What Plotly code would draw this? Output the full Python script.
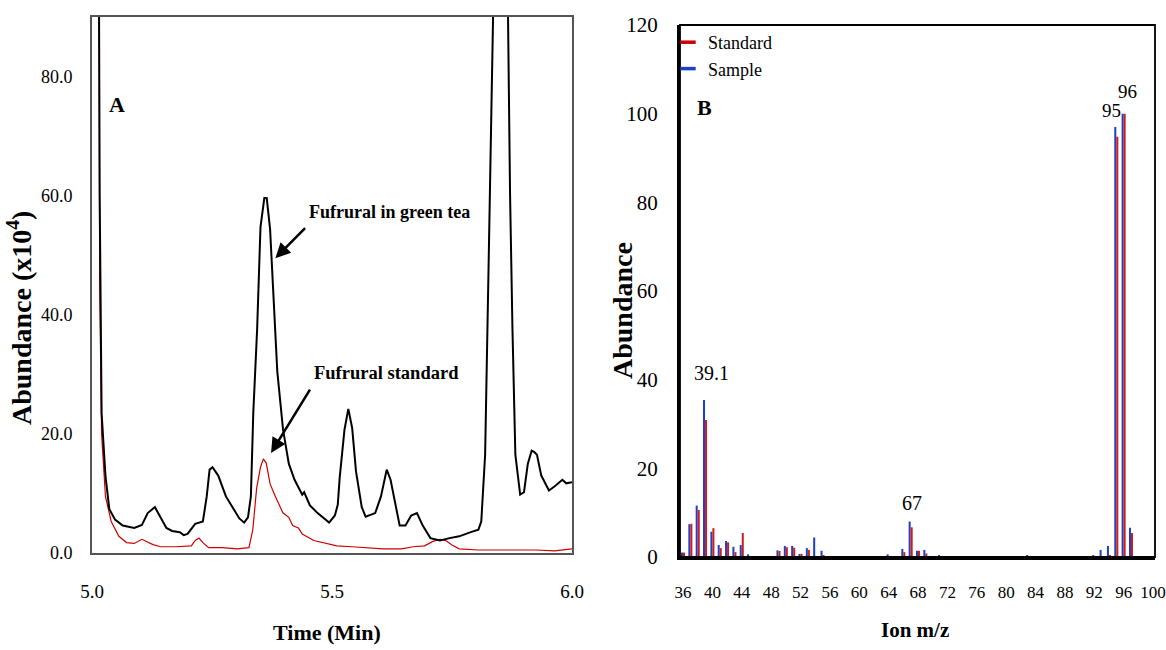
import plotly.graph_objects as go

# ---------------- Panel A: chromatogram data ----------------
time_sample = [5.010, 5.016, 5.020, 5.028, 5.036, 5.048, 5.064, 5.088, 5.104, 5.116, 5.131, 5.143,
               5.155, 5.167, 5.183, 5.191, 5.199, 5.215, 5.231, 5.239, 5.245, 5.251, 5.263, 5.279,
               5.295, 5.307, 5.317, 5.325, 5.331, 5.336, 5.344, 5.351, 5.359, 5.364, 5.371, 5.378,
               5.386, 5.398, 5.410, 5.422, 5.434, 5.438, 5.442, 5.454, 5.470, 5.486, 5.494, 5.506,
               5.512, 5.516, 5.526, 5.534, 5.542, 5.550, 5.562, 5.570, 5.590, 5.602, 5.614, 5.622,
               5.630, 5.641, 5.653, 5.665, 5.677, 5.689, 5.705, 5.725, 5.745, 5.765, 5.789, 5.805,
               5.811, 5.819, 5.827, 5.834, 5.840, 5.860, 5.866, 5.871, 5.876, 5.882, 5.892, 5.900,
               5.908, 5.916, 5.921, 5.927, 5.936, 5.952, 5.964, 5.980, 5.988, 6.000]
abund_sample = [200, 60, 23.5, 13.0, 7.4, 5.6, 4.6, 4.2, 4.7, 6.7, 7.7, 6.0,
                4.2, 3.7, 3.5, 3.0, 3.2, 4.9, 5.3, 9.5, 14.0, 14.4, 13.0, 9.5,
                7.4, 5.8, 5.1, 6.0, 9.5, 23.5, 37.5, 54.7, 59.6, 59.6, 54.4, 43.0,
                30.5, 20.7, 15.0, 12.3, 10.5, 9.8, 10.2, 8.0, 6.7, 5.6, 5.1, 6.3,
                8.1, 12.6, 20.7, 24.2, 21.0, 13.7, 7.7, 6.1, 6.7, 9.5, 14.0, 12.3,
                8.8, 4.6, 4.6, 6.3, 6.7, 4.6, 2.5, 2.1, 2.5, 2.8, 3.5, 3.9,
                5.3, 16.5, 51.6, 95, 200, 200, 95, 60, 37.5, 16.5, 9.8, 10.2,
                15.0, 17.2, 17.0, 16.5, 13.0, 10.5, 11.2, 12.3, 11.7, 11.9]

time_standard = [5.012, 5.016, 5.020, 5.028, 5.040, 5.056, 5.072, 5.088, 5.104, 5.116, 5.127, 5.143,
                 5.175, 5.207, 5.215, 5.223, 5.231, 5.243, 5.271, 5.303, 5.327, 5.335, 5.343, 5.351,
                 5.357, 5.363, 5.371, 5.382, 5.398, 5.410, 5.418, 5.430, 5.438, 5.462, 5.486, 5.510,
                 5.542, 5.566, 5.606, 5.645, 5.669, 5.693, 5.709, 5.725, 5.737, 5.749, 5.765, 5.805,
                 5.845, 5.924, 5.964, 6.000]
abund_standard = [200, 45, 20.0, 9.5, 5.3, 2.8, 1.75, 1.6, 2.3, 1.9, 1.4, 1.05,
                  1.05, 1.2, 2.1, 2.5, 1.75, 0.9, 0.9, 0.7, 0.9, 3.9, 10.9, 14.4,
                  15.8, 15.1, 11.6, 9.5, 6.7, 6.0, 4.6, 4.2, 3.2, 2.1, 1.6, 1.2,
                  1.05, 0.9, 0.7, 0.7, 1.05, 1.2, 1.9, 2.3, 2.1, 1.4, 0.7, 0.5,
                  0.5, 0.5, 0.35, 0.7]

# ---------------- Panel B: mass spectrum data ----------------
mz = [36, 37, 38, 39, 40, 41, 42, 43, 44, 45, 47, 49, 50, 51, 52, 53, 54, 55, 56, 57,
      61, 64, 66, 67, 68, 69, 70, 71, 79, 83, 86, 92, 93, 94, 95, 96, 97]
sample_abund = [1.0, 7.4, 11.6, 35.4, 5.7, 2.7, 3.6, 2.3, 2.7, 0.6, 0.2, 1.5, 2.5, 2.5, 0.7, 2.0, 4.4, 1.4, 0.2, 0.2,
                0.2, 0.6, 1.8, 8.0, 1.4, 1.6, 0.2, 0.45, 0.2, 0.45, 0.2, 0.3, 1.6, 2.5, 97.0, 100.0, 6.6]
standard_abund = [1.0, 7.5, 10.6, 30.9, 6.5, 2.0, 3.3, 1.1, 5.4, 0.15, 0.0, 1.35, 2.2, 2.1, 0.7, 1.6, 0.0, 0.45, 0.0, 0.0,
                  0.0, 0.2, 1.1, 6.7, 1.4, 0.8, 0.0, 0.0, 0.0, 0.0, 0.0, 0.0, 0.0, 0.3, 94.8, 100.0, 5.4]

left_yticks = [0, 20, 40, 60, 80]
left_xticks = [5.0, 5.5, 6.0]
right_yticks = [0, 20, 40, 60, 80, 100, 120]
right_xticks = list(range(36, 101, 4))

W, H = 1166, 650
FONT = "Liberation Serif"
BLUE = "#1f3fc4"
RED = "#d11a1a"

def px(x):
    return x / W

def py(y):
    return 1 - y / H

fig = go.Figure()

# Panel A traces
fig.add_trace(go.Scatter(x=time_standard, y=abund_standard, mode="lines",
                         line=dict(color="#cc0000", width=1.2), showlegend=False,
                         xaxis="x", yaxis="y"))
fig.add_trace(go.Scatter(x=time_sample, y=abund_sample, mode="lines",
                         line=dict(color="black", width=2), showlegend=False,
                         xaxis="x", yaxis="y"))

# Panel B bars (sample left, standard right)
fig.add_trace(go.Bar(x=mz, y=sample_abund, marker=dict(color=BLUE, line=dict(width=0)),
                     showlegend=False, xaxis="x2", yaxis="y2"))
fig.add_trace(go.Bar(x=mz, y=standard_abund, marker=dict(color=RED, line=dict(width=0)),
                     showlegend=False, xaxis="x2", yaxis="y2"))

# Legend entries (short dashes)
fig.add_trace(go.Scatter(x=[None], y=[None], mode="markers", name="Standard",
                         marker=dict(symbol="line-ew", size=11, line=dict(color="#cc0000", width=3.5)),
                         xaxis="x2", yaxis="y2", legendrank=1))
fig.add_trace(go.Scatter(x=[None], y=[None], mode="markers", name="Sample",
                         marker=dict(symbol="line-ew", size=11, line=dict(color=BLUE, width=3.5)),
                         xaxis="x2", yaxis="y2", legendrank=2))

fig.update_layout(
    width=W, height=H,
    margin=dict(l=0, r=0, t=0, b=0, pad=0, autoexpand=False),
    paper_bgcolor="white", plot_bgcolor="white",
    font=dict(family=FONT, color="black", size=18),
    barmode="group", bargap=0.45, bargroupgap=0,
    showlegend=True,
    legend=dict(x=px(668), y=py(24), xanchor="left", yanchor="top",
                font=dict(family=FONT, size=18, color="black"),
                bgcolor="rgba(0,0,0,0)", itemwidth=30, tracegroupgap=0),
    xaxis=dict(domain=[px(92), px(572)], range=[5.0, 6.0], tickvals=left_xticks,
               tickformat=".1f", showgrid=False, zeroline=False,
               showline=True, linecolor="#555", linewidth=2, mirror=True,
               ticks="", ticklabelstandoff=20, tickfont=dict(size=19), anchor="y"),
    yaxis=dict(domain=[py(553), py(17)], range=[0, 90], tickvals=left_yticks,
               tickformat=".1f", showgrid=False, zeroline=False,
               showline=True, linecolor="#555", linewidth=2, mirror=True,
               ticks="", ticklabelstandoff=14, tickfont=dict(size=18), anchor="x"),
    xaxis2=dict(domain=[px(680), px(1155)], range=[35.59, 100.27], tickvals=right_xticks,
                showgrid=False, zeroline=False, showline=True, linecolor="black",
                linewidth=3, ticks="", ticklabelstandoff=18, tickfont=dict(size=17),
                ticklabeloverflow="allow", anchor="y2"),
    yaxis2=dict(domain=[py(557), py(25)], range=[0, 120], tickvals=right_yticks,
                showgrid=False, zeroline=False, showline=True, linecolor="black",
                linewidth=3, ticks="", ticklabelstandoff=15, tickfont=dict(size=21), anchor="x2"),
)

# frame for panel B top/right
fig.add_shape(type="rect", xref="x2 domain", yref="y2 domain", x0=0, x1=1, y0=0, y1=1,
              line=dict(color="black", width=1.8), fillcolor="rgba(0,0,0,0)", layer="above")

def label(text, x, y, size, angle=0, ref="paper"):
    if ref == "paper":
        return dict(text=text, x=px(x), y=py(y), xref="paper", yref="paper",
                    xanchor="center", yanchor="middle", textangle=angle,
                    showarrow=False, font=dict(size=size))
    return dict(text=text, x=x, y=y, xref="x", yref="y", xanchor="center", yanchor="middle",
                textangle=angle, showarrow=False, font=dict(size=size))

ann = []
# axis titles
ann.append(label("<b>Abundance (x10<sup>4</sup>)</b>", 19, 318, 28, angle=-90))
ann.append(label("<b>Time (Min)</b>", 327, 632, 22))
ann.append(label("<b>Abundance</b>", 622, 311, 28, angle=-90))
ann.append(label("<b>Ion m/z</b>", 915, 630, 21))
# panel letters
ann.append(label("<b>A</b>", 117, 104, 22))
ann.append(label("<b>B</b>", 704, 107, 22))
# Panel A callouts
ann.append(label("<b>Fufrural in green tea</b>", 5.62, 57.3, 18, ref="data"))
ann.append(dict(x=5.382, y=49.5, ax=5.447, ay=54.8, xref="x", yref="y", axref="x", ayref="y",
                text="", showarrow=True, arrowhead=2, arrowsize=1.2, arrowwidth=2.5, arrowcolor="black"))
ann.append(label("<b>Fufrural standard</b>", 5.614, 30.2, 18.5, ref="data"))
ann.append(dict(x=5.373, y=16.8, ax=5.456, ay=27.7, xref="x", yref="y", axref="x", ayref="y",
                text="", showarrow=True, arrowhead=2, arrowsize=1.2, arrowwidth=2.5, arrowcolor="black"))
# Panel B peak labels
ann.append(label("39.1", 711, 373, 20))
ann.append(label("67", 912, 503, 20))
ann.append(label("95", 1111, 110, 19))
ann.append(label("96", 1127, 91, 19))

fig.update_layout(annotations=ann)

fig.write_html("out.html",
               config={"displayModeBar": False},
               post_script="document.body.style.margin='0';document.body.style.padding='0';"
                           "document.body.style.overflow='hidden';")
